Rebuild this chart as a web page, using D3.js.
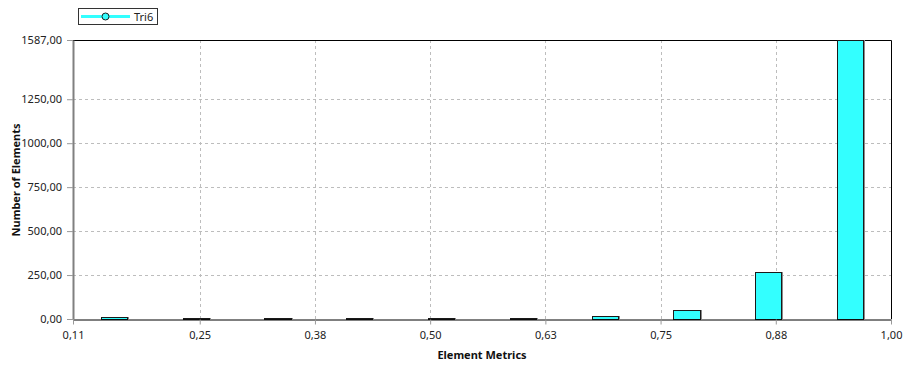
<!DOCTYPE html>
<html>
<head>
<meta charset="utf-8">
<script src="https://cdn.jsdelivr.net/npm/d3@7"></script>
<style>
  html, body { margin: 0; padding: 0; background: #fff; }
  svg { display: block; font-family: "Noto Sans", "Open Sans", sans-serif; }
</style>
</head>
<body>
<svg id="chart" width="905" height="366"></svg>
<script>
// Element quality histogram for Tri6 elements
const seriesName = "Tri6";
const xMin = 0.1125, xMax = 1.0;
const binCount = 10;
const counts = [12, 4, 4, 4, 4, 4, 17, 50, 270, 1587];
const xTickValues = [0.1125, 0.25, 0.375, 0.5, 0.625, 0.75, 0.875, 1.0];
const xTickLabels = ["0,11", "0,25", "0,38", "0,50", "0,63", "0,75", "0,88", "1,00"];
const yMax = 1587;
const yTickValues = [0, 250, 500, 750, 1000, 1250, 1587];
const yTickLabels = ["0,00", "250,00", "500,00", "750,00", "1000,00", "1250,00", "1587,00"];

const svg = d3.select("#chart");
const plotL = 73, plotR = 891, plotT = 40, plotB = 319;

const x = d3.scaleLinear().domain([xMin, xMax]).range([plotL, plotR]);
const y = d3.scaleLinear().domain([0, yMax]).range([plotB, plotT]);
const binW = (xMax - xMin) / binCount;

// grid
const grid = svg.append("g").attr("stroke", "#bdbdbd").attr("stroke-dasharray", "3,3").attr("stroke-width", 1);
grid.selectAll("line.v").data(xTickValues.slice(1, -1)).join("line")
  .attr("class", "v")
  .attr("x1", d => Math.round(x(d)) + 0.5).attr("x2", d => Math.round(x(d)) + 0.5)
  .attr("y1", plotT).attr("y2", plotB);
grid.selectAll("line.h").data(yTickValues.slice(1, -1)).join("line")
  .attr("class", "h")
  .attr("x1", plotL).attr("x2", plotR)
  .attr("y1", d => Math.round(y(d)) + 0.5).attr("y2", d => Math.round(y(d)) + 0.5);

// frame (top, right)
svg.append("path")
  .attr("d", `M${plotL},${plotT + 0.5}H${plotR + 0.5}V${plotB}`)
  .attr("fill", "none").attr("stroke", "#000");

// bars
const barW = binW * 0.32;
const bars = svg.append("g");
const binData = counts.map((c, i) => ({ c, mid: xMin + binW * (i + 0.5) }));
bars.selectAll("line.shadow").data(binData).join("line")
  .attr("class", "shadow")
  .attr("x1", d => Math.round(x(d.mid + barW / 2)) + 1.5)
  .attr("x2", d => Math.round(x(d.mid + barW / 2)) + 1.5)
  .attr("y1", d => Math.round(y(d.c)))
  .attr("y2", plotB)
  .attr("stroke", "#8a8a8a");
bars.selectAll("rect").data(binData).join("rect")
  .attr("x", d => Math.round(x(d.mid - barW / 2)) + 0.5)
  .attr("width", d => Math.round(x(d.mid + barW / 2)) - Math.round(x(d.mid - barW / 2)))
  .attr("y", d => Math.round(y(d.c)) + 0.5)
  .attr("height", d => Math.max(0, plotB - Math.round(y(d.c))))
  .attr("fill", "#33ffff")
  .attr("stroke", "#1a1a1a");

// x axis
const xAxis = svg.append("g").attr("transform", `translate(0,${plotB + 0.5})`)
  .call(d3.axisBottom(x).tickValues(xTickValues)
    .tickFormat((d, i) => xTickLabels[i]).tickSize(5).tickSizeOuter(0));
xAxis.select(".domain").attr("stroke", "#000");
xAxis.selectAll(".tick line").attr("stroke", "#999").attr("y2", 5);
xAxis.selectAll(".tick text").attr("dy", 0).attr("y", 19)
  .attr("font-size", 11).attr("fill", "#222").attr("font-family", "Noto Sans, sans-serif");

// y axis
const yAxis = svg.append("g").attr("transform", `translate(${plotL},0)`)
  .call(d3.axisLeft(y).tickValues(yTickValues)
    .tickFormat((d, i) => yTickLabels[i]).tickSize(6).tickSizeOuter(0));
yAxis.select(".domain").attr("stroke", "#808080").attr("stroke-width", 2);
yAxis.selectAll(".tick line").attr("stroke", "#999");
yAxis.selectAll(".tick text").attr("x", -11)
  .attr("font-size", 11).attr("fill", "#222").attr("font-family", "Noto Sans, sans-serif");

// axis titles
svg.append("text").attr("x", 482).attr("y", 359).attr("text-anchor", "middle")
  .attr("font-size", 11).attr("font-weight", "bold").attr("fill", "#111")
  .text("Element Metrics");
svg.append("text").attr("transform", "translate(20,180) rotate(-90)").attr("text-anchor", "middle")
  .attr("font-size", 11).attr("font-weight", "bold").attr("fill", "#111")
  .text("Number of Elements");

// legend
const lg = svg.append("g");
lg.append("rect").attr("x", 78.5).attr("y", 8.5).attr("width", 79).attr("height", 16)
  .attr("fill", "#fff").attr("stroke", "#333");
lg.append("line").attr("x1", 81).attr("x2", 130).attr("y1", 16.5).attr("y2", 16.5)
  .attr("stroke", "#33ffff").attr("stroke-width", 3);
lg.append("circle").attr("cx", 105.5).attr("cy", 16.5).attr("r", 3.5)
  .attr("fill", "#33ffff").attr("stroke", "#222");
lg.append("text").attr("x", 134).attr("y", 21).attr("font-size", 11).attr("fill", "#222")
  .text(seriesName);
</script>
</body>
</html>
